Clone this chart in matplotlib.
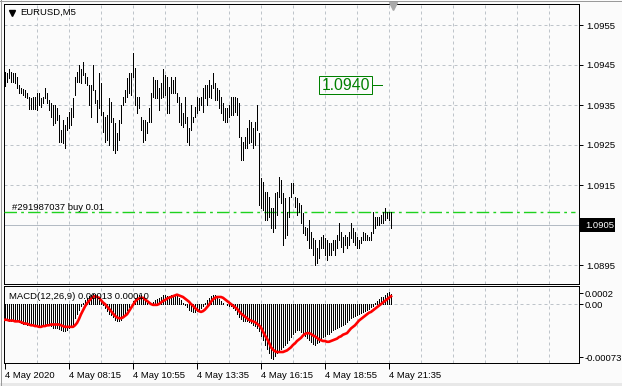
import matplotlib.pyplot as plt
import matplotlib.patches as patches
import numpy as np

# EURUSD M5 bars: high / low per bar
highs = [1.09432, 1.09429, 1.09439, 1.09433, 1.09429, 1.09429, 1.09419, 1.09400, 1.09392, 1.09389,
         1.09388, 1.09379, 1.09371, 1.09367, 1.09371, 1.09371, 1.09379, 1.09381, 1.09367, 1.09371,
         1.09392, 1.09379, 1.09363, 1.09354, 1.09350, 1.09350, 1.09342, 1.09325, 1.09288, 1.09313,
         1.09300, 1.09321, 1.09333, 1.09342, 1.09367, 1.09421, 1.09433, 1.09450, 1.09439, 1.09458,
         1.09429, 1.09421, 1.09400, 1.09400, 1.09450, 1.09388, 1.09363, 1.09429, 1.09404, 1.09333,
         1.09321, 1.09325, 1.09367, 1.09358, 1.09317, 1.09304, 1.09279, 1.09313, 1.09350, 1.09371,
         1.09388, 1.09417, 1.09429, 1.09429, 1.09481, 1.09442, 1.09371, 1.09371, 1.09321, 1.09313,
         1.09313, 1.09308, 1.09342, 1.09379, 1.09421, 1.09413, 1.09413, 1.09392, 1.09404, 1.09439,
         1.09425, 1.09421, 1.09396, 1.09421, 1.09413, 1.09421, 1.09379, 1.09371, 1.09354, 1.09329,
         1.09371, 1.09321, 1.09292, 1.09350, 1.09321, 1.09346, 1.09371, 1.09367, 1.09371, 1.09392,
         1.09400, 1.09400, 1.09413, 1.09400, 1.09429, 1.09404, 1.09392, 1.09388, 1.09371, 1.09354,
         1.09342, 1.09342, 1.09350, 1.09371, 1.09371, 1.09371, 1.09367, 1.09354, 1.09271, 1.09258,
         1.09271, 1.09292, 1.09313, 1.09308, 1.09292, 1.09308, 1.09350, 1.09279, 1.09167, 1.09158,
         1.09133, 1.09133, 1.09121, 1.09092, 1.09092, 1.09129, 1.09133, 1.09171, 1.09163, 1.09129,
         1.09117, 1.09083, 1.09121, 1.09154, 1.09154, 1.09121, 1.09117, 1.09104, 1.09100, 1.09079,
         1.09046, 1.09042, 1.09063, 1.09033, 1.09017, 1.09013, 1.08992, 1.09013, 1.09021, 1.09025,
         1.09017, 1.09013, 1.09004, 1.09004, 1.09013, 1.09013, 1.09025, 1.09054, 1.09033, 1.09021,
         1.09025, 1.09021, 1.09033, 1.09054, 1.09042, 1.09033, 1.09021, 1.09013, 1.09021, 1.09033,
         1.09029, 1.09025, 1.09021, 1.09033, 1.09083, 1.09071, 1.09071, 1.09071, 1.09075, 1.09083,
         1.09092, 1.09083, 1.09083, 1.09083]

lows = [1.09398, 1.09408, 1.09417, 1.09408, 1.09408, 1.09404, 1.09392, 1.09379, 1.09379, 1.09375,
        1.09369, 1.09367, 1.09339, 1.09339, 1.09339, 1.09339, 1.09338, 1.09350, 1.09346, 1.09356,
        1.09367, 1.09354, 1.09338, 1.09321, 1.09300, 1.09304, 1.09313, 1.09258, 1.09258, 1.09254,
        1.09242, 1.09288, 1.09292, 1.09300, 1.09319, 1.09375, 1.09408, 1.09408, 1.09404, 1.09425,
        1.09404, 1.09400, 1.09350, 1.09321, 1.09388, 1.09354, 1.09308, 1.09342, 1.09325, 1.09283,
        1.09258, 1.09263, 1.09250, 1.09308, 1.09238, 1.09229, 1.09238, 1.09263, 1.09304, 1.09350,
        1.09358, 1.09371, 1.09379, 1.09375, 1.09421, 1.09350, 1.09329, 1.09342, 1.09288, 1.09258,
        1.09263, 1.09279, 1.09308, 1.09308, 1.09371, 1.09367, 1.09367, 1.09338, 1.09367, 1.09371,
        1.09375, 1.09329, 1.09329, 1.09379, 1.09379, 1.09379, 1.09358, 1.09308, 1.09300, 1.09296,
        1.09304, 1.09258, 1.09250, 1.09288, 1.09308, 1.09321, 1.09329, 1.09338, 1.09350, 1.09333,
        1.09367, 1.09350, 1.09371, 1.09367, 1.09392, 1.09363, 1.09363, 1.09342, 1.09329, 1.09313,
        1.09308, 1.09308, 1.09321, 1.09325, 1.09325, 1.09333, 1.09325, 1.09271, 1.09213, 1.09213,
        1.09242, 1.09242, 1.09254, 1.09258, 1.09242, 1.09250, 1.09288, 1.09100, 1.09092, 1.09088,
        1.09063, 1.09063, 1.09071, 1.09042, 1.09033, 1.09042, 1.09075, 1.09121, 1.09104, 1.09000,
        1.09017, 1.09025, 1.09071, 1.09121, 1.09129, 1.09096, 1.09075, 1.09083, 1.09054, 1.09029,
        1.09025, 1.09013, 1.08992, 1.08992, 1.08975, 1.08950, 1.08954, 1.08967, 1.08992, 1.08992,
        1.08975, 1.08963, 1.08975, 1.08975, 1.08988, 1.08975, 1.08992, 1.09013, 1.08996, 1.08983,
        1.09000, 1.08992, 1.09000, 1.09017, 1.09008, 1.09000, 1.08992, 1.08992, 1.09004, 1.09013,
        1.09013, 1.09013, 1.09013, 1.09013, 1.09029, 1.09042, 1.09050, 1.09050, 1.09054, 1.09054,
        1.09063, 1.09067, 1.09063, 1.09042]

# MACD(12,26,9) main histogram and signal line, in units of 1e-5
macd_main = [-20, -20, -21, -21, -21, -22, -22, -23, -24, -25,
             -25, -26, -27, -27, -27, -28, -28, -28, -28, -27,
             -26, -26, -27, -28, -30, -31, -31, -32, -33, -34,
             -34, -33, -31, -28, -25, -18, -12, -7, -3, 2,
             5, 8, 10, 12, 13, 13, 11, 7, 3, -1,
             -5, -9, -12, -14, -17, -20, -22, -22, -20, -16,
             -12, -8, -4, 0, 4, 8, 11, 12, 11, 8,
             4, 1, 0, 1, 3, 5, 7, 8, 9, 11,
             11, 10, 10, 11, 11, 12, 10, 8, 5, 2,
             -1, -4, -8, -9, -10, -10, -9, -8, -5, -2,
             2, 5, 8, 10, 11, 11, 10, 7, 4, 1,
             0, -1, -2, -3, -5, -8, -12, -16, -19, -21,
             -22, -22, -23, -24, -26, -28, -30, -34, -40, -46,
             -52, -57, -62, -68, -70, -66, -62, -59, -57, -55,
             -52, -50, -46, -42, -38, -36, -33, -33, -35, -37,
             -40, -43, -46, -48, -51, -52, -50, -48, -44, -42,
             -40, -38, -38, -35, -33, -32, -31, -29, -28, -26,
             -25, -23, -20, -18, -17, -15, -14, -12, -11, -10,
             -9, -8, -6, -4, -2, 1, 4, 6, 9, 9,
             12, 14, 15, 13]

macd_signal = [-20, -20, -21, -21, -21, -22, -22, -22, -23, -24,
               -25, -25, -26, -27, -27, -28, -28, -29, -29, -28,
               -28, -27, -27, -26, -26, -26, -26, -26, -27, -28,
               -29, -29, -29, -29, -29, -27, -24, -19, -13, -8,
               -3, 1, 4, 7, 9, 10, 9, 8, 5, 2,
               0, -3, -6, -9, -12, -15, -17, -18, -18, -17,
               -15, -13, -9, -5, -1, 3, 6, 7, 8, 8,
               6, 4, 2, 0, -1, -1, -1, 0, 2, 4,
               5, 7, 8, 9, 10, 11, 12, 11, 10, 9,
               7, 5, 3, 0, -2, -5, -7, -9, -10, -9,
               -7, -4, -1, 3, 6, 8, 9, 9, 9, 8,
               6, 4, 2, 0, -2, -4, -6, -9, -12, -14,
               -16, -18, -20, -21, -22, -23, -25, -27, -30, -35,
               -40, -44, -49, -55, -58, -60, -61, -61, -61, -61,
               -60, -59, -57, -55, -52, -50, -47, -45, -43, -40,
               -38, -37, -37, -38, -40, -41, -43, -45, -46, -47,
               -47, -48, -48, -47, -46, -45, -44, -42, -41, -39,
               -38, -37, -34, -31, -29, -27, -24, -21, -19, -17,
               -15, -13, -11, -10, -8, -6, -4, -2, 0, 2,
               4, 6, 8, 10]

price_ticks = [1.0955, 1.0945, 1.0935, 1.0925, 1.0915, 1.0905, 1.0895]
bid_price = 1.0905
order_price = 1.09082
label_price = 1.0940
macd_ticks = [0.00014, 0.0, -0.000675]
macd_tick_labels = ['0.0002', '0.00', '-0.00073']
time_pos = [0, 32, 64, 96, 128, 160, 192]
time_labels = ['4 May 2020', '4 May 08:15', '4 May 10:55', '4 May 13:35',
               '4 May 16:15', '4 May 18:55', '4 May 21:35']
grid_pos = list(range(16, 288, 16))

W, H = 622, 386
PX = 0.72  # one pixel in points at 100 dpi
bg = '#fbfbfb'
grid_col = '#bec4ca'

plt.rcParams['font.family'] = ['Liberation Sans', 'DejaVu Sans']
fs = 6.8

fig = plt.figure(figsize=(W / 100, H / 100), dpi=100, facecolor=bg)


def fx(px):
    return px / W


def fy(py):
    return 1 - py / H


ax1 = fig.add_axes([fx(4), fy(284), 575 / W, 280 / H], facecolor=bg)
ax2 = fig.add_axes([fx(4), fy(363), 575 / W, 77 / H], facecolor=bg)

x = np.arange(len(highs))

# ---- price window ----
for p in grid_pos:
    ax1.axvline(p, color=grid_col, lw=PX, ls=(0, (3, 3)), zorder=1)
for p in price_ticks:
    if p != bid_price:
        ax1.axhline(p, color=grid_col, lw=PX, ls=(0, (3, 3)), zorder=1)
ax1.axhline(bid_price, color='#b3bbc4', lw=PX, zorder=2)
ax1.axhline(order_price, xmax=0.993, color='#1ed21e', lw=1.0, ls=(0, (9, 3, 2, 3)), zorder=3)
ax1.vlines(x, lows, highs, color='black', lw=PX, antialiased=False, zorder=5)

ax1.set_xlim(-0.5, 287)
ax1.set_ylim(1.089025, 1.096025)
ax1.set_xticks([])
ax1.yaxis.tick_right()
ax1.set_yticks([p for p in price_ticks if p != bid_price])
ax1.set_yticklabels([f'{p:.4f}' for p in price_ticks if p != bid_price])
ax1.tick_params(axis='y', length=3, width=PX, pad=2, labelsize=fs)

# price label object
ax1.text(0.594, label_price, f'{label_price:.4f}', color='#008000', fontsize=11.3,
         ha='center', va='center', transform=ax1.get_yaxis_transform(),
         bbox=dict(boxstyle='square,pad=0.12', fc='none', ec='#008000', lw=PX))
ax1.plot([0.641, 0.658], [label_price, label_price], color='#008000', lw=PX,
         transform=ax1.get_yaxis_transform())

ax1.text(0.0139, order_price + 0.00011, '#291987037 buy 0.01', fontsize=fs,
         ha='left', va='center', transform=ax1.get_yaxis_transform())

# current bid box on the price scale
bid_y = 1 - (ax1.transData.transform((0, bid_price))[1] / H)
fig.add_artist(patches.Rectangle((fx(580), 1 - (bid_y * H + 7) / H), 35 / W, 14 / H,
                                 transform=fig.transFigure, fc='black', ec='none'))
fig.text(fx(585), 1 - bid_y, f'{bid_price:.4f}', color='white', fontsize=fs, va='center')

# ---- MACD window ----
for p in grid_pos:
    ax2.axvline(p, color=grid_col, lw=PX, ls=(0, (3, 3)), zorder=1)
ax2.axhline(0, color=grid_col, lw=PX, ls=(0, (3, 3)), zorder=1)
ax2.vlines(x, 0, np.array(macd_main) * 1e-5, color='black', lw=PX, antialiased=False, zorder=3)
ax2.plot(x, np.array(macd_signal) * 1e-5, color='#ff0000', lw=1.9, zorder=4)
ax2.set_xlim(-0.5, 287)
ax2.set_ylim(-0.00075, 0.00023)
ax2.yaxis.tick_right()
ax2.set_yticks(macd_ticks)
ax2.set_yticklabels(macd_tick_labels)
ax2.tick_params(axis='y', length=3, width=PX, pad=1, labelsize=fs)
ax2.set_xticks(time_pos)
ax2.set_xticklabels(time_labels, ha='left')
ax2.tick_params(axis='x', length=4, width=PX, pad=1.5, labelsize=fs)
ax2.text(0.0087, 0.87, 'MACD(12,26,9) 0.00013 0.00010', fontsize=fs, ha='left', va='center',
         transform=ax2.transAxes, zorder=6)

for ax in (ax1, ax2):
    for s in ax.spines.values():
        s.set_linewidth(PX)
        s.set_color('black')

# window header
fig.text(fx(20), fy(12), 'EURUSD,M5', fontsize=fs, va='center')
fig.add_artist(plt.Line2D([fx(12)], [fy(12.5)], marker='v', ms=4.2, color='black',
                          transform=fig.transFigure))
fig.add_artist(plt.Line2D([fx(393)], [fy(6)], marker='v', ms=6, color='#a9a9a9',
                          transform=fig.transFigure))

# outer frame
fig.add_artist(plt.Line2D([0, 1], [fy(0.5), fy(0.5)], color='#9a9a9a', lw=PX, transform=fig.transFigure))
fig.add_artist(plt.Line2D([fx(0.5), fx(0.5)], [0, 1], color='#9a9a9a', lw=PX, transform=fig.transFigure))
fig.add_artist(patches.Rectangle((0, 0), 1, 3 / H, transform=fig.transFigure, fc='#e8e8e8', ec='none'))

fig.savefig('out.png', dpi=100, facecolor=bg)
